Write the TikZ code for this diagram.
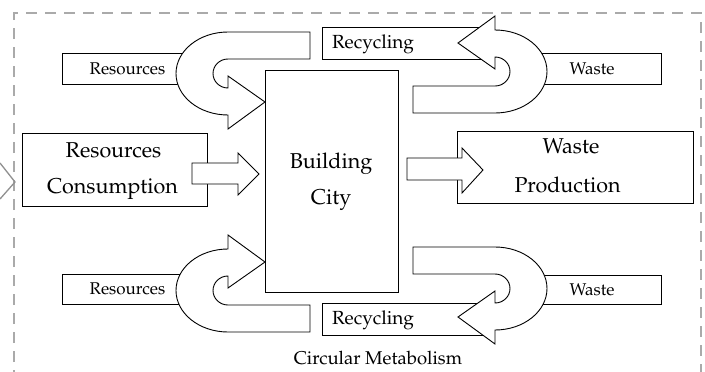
\documentclass[tikz,border=0pt]{standalone}
\usepackage[T1]{fontenc}
\usepackage{mathpazo}
\definecolor{framecol}{HTML}{AAAAAA}
\definecolor{chevcol}{HTML}{909090}
\tikzset{
  shapeline/.style={draw=black, fill=white, line width=0.9pt, line join=miter},
  boxline/.style={draw=black, fill=white, line width=0.9pt},
  smalltxt/.style={anchor=base, inner sep=0pt, font=\fontsize{17}{20}\selectfont},
  midtxt/.style={anchor=base, inner sep=0pt, font=\fontsize{19}{22}\selectfont},
  bigtxt/.style={anchor=base, inner sep=0pt, font=\fontsize{21.5}{25}\selectfont},
  capttxt/.style={anchor=base, inner sep=0pt, font=\fontsize{18.5}{22}\selectfont},
  uarrow/.pic={
    \path[shapeline] (310,32) -- (228,32)
      .. controls (199.3,32) and (176,50.6) .. (176,73.5)
      .. controls (176,96.4) and (199.3,115) .. (228,115)
      -- (228,129) -- (265,102) -- (228,76) -- (228,88)
      .. controls (219.7,88) and (213,81.5) .. (213,73.5)
      .. controls (213,65.5) and (219.7,59) .. (228,59)
      -- (310,59) -- cycle;
  }
}
\begin{document}
\begin{tikzpicture}[x=1pt,y=-1pt]
\useasboundingbox (0,0) rectangle (705,372);
\clip (0,0) rectangle (705,372);
% outer dashed frame
\draw[framecol, line width=1.8pt, dash pattern=on 11pt off 8pt] (14,400) -- (14,13) -- (701,13) -- (701,400);
% left chevron
\draw[chevcol, line width=1.3pt] (0,163) -- (15,182) -- (0,199);

% small side boxes (drawn first, partly hidden by the U-arrows)
\path[boxline] (62,53) rectangle (195,84);
\path[boxline] (62,274) rectangle (195,304);
\path[boxline] (520,53) rectangle (661,84);
\path[boxline] (520,275) rectangle (661,304);
\path[boxline] (322,27) rectangle (490,59);
\path[boxline] (322,303) rectangle (490,335);

% main boxes
\path[boxline] (265,70) rectangle (398,292);
\path[boxline] (22,133) rectangle (207,206);
\path[boxline] (457,131) rectangle (693,203);

% straight block arrows
\path[shapeline] (192,163) -- (238,163) -- (238,153) -- (259,174) -- (238,195) -- (238,184) -- (192,184) -- cycle;
\path[shapeline] (407,158) -- (462,158) -- (462,148) -- (483,170) -- (462,193) -- (462,180) -- (407,180) -- cycle;

% U-turn arrows
\pic[transform shape] {uarrow};
\begin{scope}[shift={(0,364)}, yscale=-1]
  \pic[transform shape] {uarrow};
\end{scope}
\begin{scope}[shift={(723,145)}, xscale=-1, yscale=-1]
  \pic[transform shape] {uarrow};
\end{scope}
\begin{scope}[shift={(723,215)}, xscale=-1]
  \pic[transform shape] {uarrow};
\end{scope}

% texts
\node[smalltxt] (res1) at (127.5,74) {Resources};
\node[smalltxt] (res2) at (127.5,294.5) {Resources};
\node[smalltxt] (was1) at (592,74) {Waste};
\node[smalltxt] (was2) at (592,295) {Waste};
\node[midtxt] (rec1) at (373,48.5) {Recycling};
\node[midtxt] (rec2) at (373,324) {Recycling};
\node[bigtxt] (bld) at (331,168) {Building};
\node[bigtxt] (cty) at (331,204) {City};
\node[bigtxt] (rc1) at (113.5,157) {Resources};
\node[bigtxt] (rc2) at (112.5,193) {Consumption};
\node[bigtxt] (wp1) at (571,153) {Waste};
\node[bigtxt] (wp2) at (567.5,192) {Production};
\node[capttxt] (circ) at (378,364.5) {Circular Metabolism};
\end{tikzpicture}
\end{document}
